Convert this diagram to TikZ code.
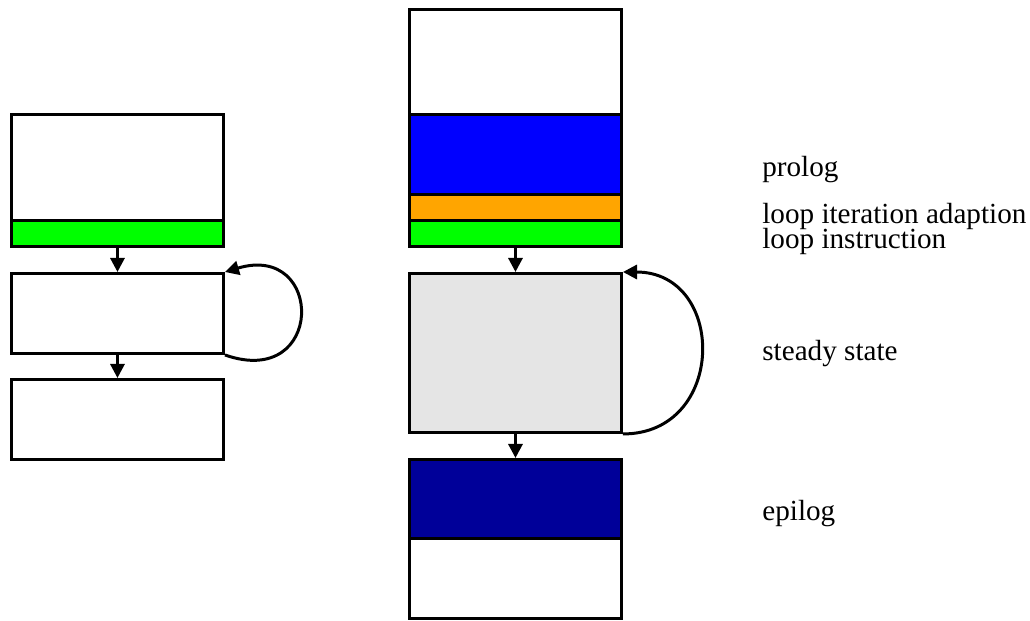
\documentclass[tikz,border=0pt]{standalone}
\usepackage{fontspec}
\setmainfont{Liberation Serif}
\usetikzlibrary{arrows.meta}

\definecolor{prologblue}{HTML}{0000FF}
\definecolor{adaptorange}{HTML}{FFA500}
\definecolor{loopgreen}{HTML}{00FF00}
\definecolor{steadygray}{HTML}{E5E5E5}
\definecolor{epilogblue}{HTML}{000099}

\tikzset{
  blk/.style={draw, line width=1.7pt, inner sep=0pt, anchor=north west,
              minimum width=4.24cm},
  flow/.style={line width=1.7pt, -{Triangle[length=8pt,width=8pt]}},
  lbl/.style={anchor=base west, inner sep=0pt,
              font=\fontsize{16.6}{20}\selectfont}
}

\begin{document}
\begin{tikzpicture}[x=0.02cm, y=-0.02cm]
  \useasboundingbox (0,0) rectangle (1030,621);

  % plain loop
  \node[blk, minimum height=2.12cm] (ltop) at (10,113) {};
  \node[blk, fill=loopgreen, minimum height=0.52cm] (lgreen) at (10,219) {};
  \node[blk, minimum height=1.6cm] (lbody) at (10,272) {};
  \node[blk, minimum height=1.6cm] (lafter) at (10,378) {};

  \draw[flow] (lgreen.south) -- (lbody.north);
  \draw[flow] (lbody.south) -- (lafter.north);
  \draw[flow] (lbody.south east) .. controls +(100,35) and +(100,-30) .. (lbody.north east);

  % software pipelined loop
  \node[blk, minimum height=2.1cm] (rtop) at (408,8) {};
  \node[blk, fill=prologblue, minimum height=1.6cm] (prolog) at (408,113) {};
  \node[blk, fill=adaptorange, minimum height=0.52cm] (adapt) at (408,193) {};
  \node[blk, fill=loopgreen, minimum height=0.52cm] (rgreen) at (408,219) {};
  \node[blk, fill=steadygray, minimum height=3.18cm] (steady) at (408,272) {};
  \node[blk, fill=epilogblue, minimum height=1.58cm] (epilog) at (408,458) {};
  \node[blk, minimum height=1.6cm] (rafter) at (408,537) {};

  \draw[flow] (rgreen.south) -- (steady.north);
  \draw[flow] (steady.south) -- (epilog.north);
  \draw[flow] (steady.south east) .. controls +(104,0) and +(104,0) .. (steady.north east);

  % labels
  \node[lbl] (tprolog) at (762,177) {prolog};
  \node[lbl] (tadapt) at (762,224) {loop iteration adaption};
  \node[lbl] (tloop) at (762,249) {loop instruction};
  \node[lbl] (tsteady) at (762,360) {steady state};
  \node[lbl] (tepilog) at (762,520) {epilog};
\end{tikzpicture}
\end{document}
